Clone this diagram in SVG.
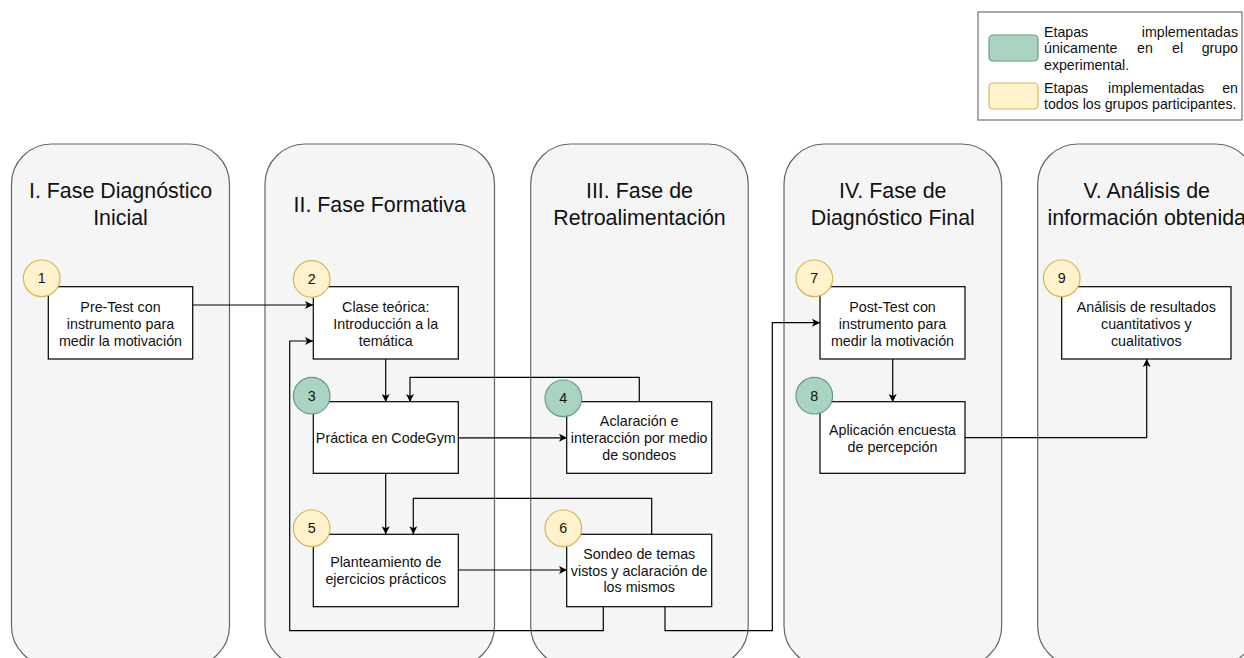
<svg xmlns="http://www.w3.org/2000/svg" width="1244" height="658" viewBox="0 0 1244 658">
<defs>
<style>
.phase{fill:#f5f5f5;stroke:#666666;stroke-width:1.2}
.ptitle{font-family:"Liberation Sans",Arial,Helvetica,sans-serif;font-size:21.4px;fill:#111111;text-anchor:middle}
.box{fill:#ffffff;stroke:#000000;stroke-width:1.2}
.t{font-family:"Liberation Sans",Arial,Helvetica,sans-serif;font-size:14.3px;fill:#111111;text-anchor:middle}
.lt{font-family:"Liberation Sans",Arial,Helvetica,sans-serif;font-size:14.2px;fill:#111111}
.y{fill:#fff2cc;stroke:#d6b656;stroke-width:1.2}
.g{fill:#a9d4c1;stroke:#6a9a84;stroke-width:1.2}
.edge{fill:none;stroke:#000000;stroke-width:1.2;marker-end:url(#arr)}
</style>
<marker id="arr" markerWidth="10" markerHeight="10" refX="9" refY="5" orient="auto" markerUnits="userSpaceOnUse">
<path d="M1,1 L9,5 L1,9 L3,5 Z" fill="#000000"/>
</marker>
</defs>

<g id="legend">
<rect x="978" y="12" width="264" height="108" fill="#ffffff" stroke="#707070" stroke-width="1.2"/>
<rect x="989" y="35" width="49" height="26" rx="4" class="g"/>
<rect x="989" y="83" width="49" height="26" rx="4" class="y"/>
<text class="lt" x="1044" y="36.5">Etapas</text>
<text class="lt" x="1238" y="36.5" text-anchor="end">implementadas</text>
<text class="lt" x="1044" y="53">únicamente</text>
<text class="lt" x="1137" y="53">en</text>
<text class="lt" x="1172" y="53">el</text>
<text class="lt" x="1238" y="53" text-anchor="end">grupo</text>
<text class="lt" x="1044" y="69.5">experimental.</text>
<text class="lt" x="1044" y="92.5">Etapas</text>
<text class="lt" x="1108" y="92.5">implementadas</text>
<text class="lt" x="1238" y="92.5" text-anchor="end">en</text>
<text class="lt" x="1044" y="109">todos los grupos participantes.</text>
</g>

<g id="phase1">
<rect class="phase" x="11.5" y="144" width="218" height="522" rx="40"/>
<text class="ptitle" x="120.5" y="198">I. Fase Diagnóstico</text>
<text class="ptitle" x="120.5" y="225">Inicial</text>
</g>
<g id="phase2">
<rect class="phase" x="265" y="144" width="229.5" height="522" rx="40"/>
<text class="ptitle" x="379.7" y="211.5">II. Fase Formativa</text>
</g>
<g id="phase3">
<rect class="phase" x="530.7" y="144" width="217.5" height="522" rx="40"/>
<text class="ptitle" x="639.5" y="198">III. Fase de</text>
<text class="ptitle" x="639.5" y="225">Retroalimentación</text>
</g>
<g id="phase4">
<rect class="phase" x="784" y="144" width="217.7" height="522" rx="40"/>
<text class="ptitle" x="892.8" y="198">IV. Fase de</text>
<text class="ptitle" x="892.8" y="225">Diagnóstico Final</text>
</g>
<g id="phase5">
<rect class="phase" x="1037.7" y="144" width="218" height="522" rx="40"/>
<text class="ptitle" x="1146.7" y="198">V. Análisis de</text>
<text class="ptitle" x="1146.7" y="225">información obtenida</text>
</g>

<g id="connectors">
<path class="edge" d="M193,305 L313,305"/>
<path class="edge" d="M603.3,607 L603.3,630.7 L289.7,630.7 L289.7,341 L313,341"/>
<path class="edge" d="M385.7,359 L385.7,402"/>
<path class="edge" d="M639.3,402 L639.3,377.3 L410,377.3 L410,402"/>
<path class="edge" d="M458,437.8 L567,437.8"/>
<path class="edge" d="M385.7,473.3 L385.7,534.3"/>
<path class="edge" d="M651.7,534.3 L651.7,498.3 L413.3,498.3 L413.3,534.3"/>
<path class="edge" d="M458,570 L567,570"/>
<path class="edge" d="M665,607 L665,630.7 L772.3,630.7 L772.3,322.7 L820,322.7"/>
<path class="edge" d="M892.7,359 L892.7,402"/>
<path class="edge" d="M965,437.7 L1146.7,437.7 L1146.7,359"/>
</g>

<g id="node1">
<rect class="box" x="48.3" y="286.7" width="144.4" height="72.3"/>
<text class="t" x="120.5" y="311.5">Pre-Test con</text>
<text class="t" x="120.5" y="328.5">instrumento para</text>
<text class="t" x="120.5" y="345.5">medir la motivación</text>
<circle class="y" cx="41.7" cy="278.3" r="18.3"/>
<text class="t" x="41.7" y="283.3">1</text>
</g>
<g id="node2">
<rect class="box" x="313.3" y="286.7" width="145" height="72.3"/>
<text class="t" x="385.8" y="312">Clase teórica:</text>
<text class="t" x="385.8" y="328.7">Introducción a la</text>
<text class="t" x="385.8" y="345.5">temática</text>
<circle class="y" cx="311.7" cy="279" r="18.3"/>
<text class="t" x="311.7" y="284">2</text>
</g>
<g id="node3">
<rect class="box" x="313.3" y="401.7" width="145" height="71.6"/>
<text class="t" x="385.8" y="443.3">Práctica en CodeGym</text>
<circle class="g" cx="311.7" cy="395.7" r="18.3"/>
<text class="t" x="311.7" y="400.7">3</text>
</g>
<g id="node4">
<rect class="box" x="566.7" y="401.7" width="145" height="71.6"/>
<text class="t" x="639.2" y="426">Aclaración e</text>
<text class="t" x="639.2" y="442.8">interacción por medio</text>
<text class="t" x="639.2" y="459.5">de sondeos</text>
<circle class="g" cx="563.3" cy="398.3" r="18.3"/>
<text class="t" x="563.3" y="403.3">4</text>
</g>
<g id="node5">
<rect class="box" x="313.3" y="534.3" width="145" height="72.4"/>
<text class="t" x="385.8" y="567.3">Planteamiento de</text>
<text class="t" x="385.8" y="584">ejercicios prácticos</text>
<circle class="y" cx="311.7" cy="528.3" r="18.3"/>
<text class="t" x="311.7" y="533.3">5</text>
</g>
<g id="node6">
<rect class="box" x="566.7" y="534.3" width="145" height="72.4"/>
<text class="t" x="639.2" y="559">Sondeo de temas</text>
<text class="t" x="639.2" y="575.7">vistos y aclaración de</text>
<text class="t" x="639.2" y="592.4">los mismos</text>
<circle class="y" cx="563.3" cy="528.3" r="18.3"/>
<text class="t" x="563.3" y="533.3">6</text>
</g>
<g id="node7">
<rect class="box" x="820" y="286.7" width="145" height="72.3"/>
<text class="t" x="892.5" y="311.5">Post-Test con</text>
<text class="t" x="892.5" y="328.5">instrumento para</text>
<text class="t" x="892.5" y="345.5">medir la motivación</text>
<circle class="y" cx="814.3" cy="278.3" r="18.3"/>
<text class="t" x="814.3" y="283.3">7</text>
</g>
<g id="node8">
<rect class="box" x="820" y="401.7" width="145" height="71.6"/>
<text class="t" x="892.5" y="435">Aplicación encuesta</text>
<text class="t" x="892.5" y="451.7">de percepción</text>
<circle class="g" cx="814.3" cy="395.7" r="18.3"/>
<text class="t" x="814.3" y="400.7">8</text>
</g>
<g id="node9">
<rect class="box" x="1061.7" y="286.7" width="169.3" height="72.3"/>
<text class="t" x="1146.3" y="311.5">Análisis de resultados</text>
<text class="t" x="1146.3" y="328.5">cuantitativos y</text>
<text class="t" x="1146.3" y="345.5">cualitativos</text>
<circle class="y" cx="1061.7" cy="278.3" r="18.3"/>
<text class="t" x="1061.7" y="283.3">9</text>
</g>
</svg>
